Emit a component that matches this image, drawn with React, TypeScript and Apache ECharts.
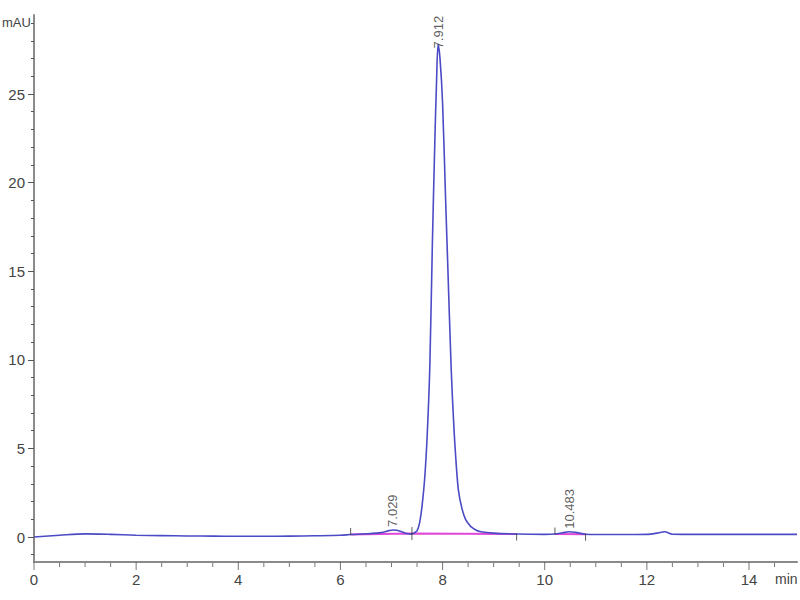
import React, { useEffect, useRef } from "react";
import * as echarts from "echarts";

// Chromatogram trace (time in min, absorbance in mAU)
const traceTime = [
  0, 0.5, 1.0, 1.5, 2.0, 2.5, 3.0, 3.5, 4.0, 4.5, 5.0, 5.5, 6.0, 6.2, 6.5, 6.8, 6.95, 7.029, 7.1, 7.2, 7.3, 7.4,
  7.45, 7.5, 7.55, 7.6, 7.65, 7.7, 7.75, 7.8, 7.85, 7.88, 7.912, 7.95, 8.0, 8.06, 8.1, 8.17, 8.22, 8.26, 8.31,
  8.38, 8.45, 8.55, 8.65, 8.75, 9.0, 9.45, 10.0, 10.2, 10.35, 10.483, 10.6, 10.8, 11.0, 11.5, 12.0, 12.2, 12.35,
  12.5, 13.0, 14.0, 14.94,
];
const traceAbs = [
  0.0, 0.1, 0.18, 0.15, 0.1, 0.08, 0.06, 0.05, 0.04, 0.04, 0.05, 0.07, 0.1, 0.14, 0.18, 0.25, 0.36, 0.4, 0.38,
  0.3, 0.2, 0.17, 0.25, 0.35, 0.8, 1.8, 3.3, 5.8, 9.6, 16.5, 22.5, 25.5, 27.8, 27.0, 24.5, 19.0, 15.5, 9.4, 6.3,
  4.4, 2.65, 1.6, 1.0, 0.6, 0.4, 0.3, 0.22, 0.17, 0.15, 0.17, 0.24, 0.3, 0.26, 0.16, 0.14, 0.14, 0.15, 0.22,
  0.3, 0.16, 0.15, 0.15, 0.15,
];

// Integrated peaks: retention time, apex height
const peakTimes = [7.029, 7.912, 10.483];
const peakHeights = [0.4, 27.8, 0.3];

// Integration baselines (start time, start value, end time, end value)
const baseStartT = [6.2, 7.4, 10.2];
const baseStartV = [0.14, 0.2, 0.17];
const baseEndT = [7.4, 9.45, 10.8];
const baseEndV = [0.2, 0.17, 0.16];

// Axis ticks
const xMin = 0;
const xMax = 14.94;
const yMin = -1.41;
const yMax = 29.46;
const xLabelValues = [0, 2, 4, 6, 8, 10, 12, 14];
const yLabelValues = [0, 5, 10, 15, 20, 25];
const xMinorValues = [0.5, 1, 1.5, 2.5, 3, 3.5, 4.5, 5, 5.5, 6.5, 7, 7.5, 8.5, 9, 9.5, 10.5, 11, 11.5, 12.5, 13, 13.5, 14.5];
const yMinorValues = [-1, 1, 2, 3, 4, 6, 7, 8, 9, 11, 12, 13, 14, 16, 17, 18, 19, 21, 22, 23, 24, 26, 27, 28, 29];

export default function App() {
  const ref = useRef<HTMLDivElement>(null);

  useEffect(() => {
    if (!ref.current) return;
    const chart = echarts.init(ref.current, null, { renderer: "svg" });

    const trace = traceTime.map((t, i) => [t, traceAbs[i]]);
    const baseData: any[] = [];
    baseStartT.forEach((t, i) => {
      baseData.push([t, baseStartV[i]]);
      baseData.push([baseEndT[i], baseEndV[i]]);
      baseData.push([null, null]);
    });
    const startMarks = baseStartT.map((t, i) => [t, baseStartV[i]]);
    const endMarks = baseEndT.map((t, i) => [t, baseEndV[i]]);
    const peaks = peakTimes.map((t, i) => ({
      value: [t, peakHeights[i]],
      label: { distance: peakHeights[i] > 5 ? -4 : 3 },
    }));
    const xMajorTicks = xLabelValues.map((v) => [v, yMin]);
    const xMinorTicks = xMinorValues.map((v) => [v, yMin]);

    const axisColor = "#8a8a8a";
    const labelFont = "'Liberation Sans Narrow', 'Liberation Sans', Arial, sans-serif";

    chart.setOption({
      animation: false,
      backgroundColor: "#ffffff",
      grid: { left: 34, right: 3, top: 15, bottom: 38 },
      xAxis: {
        type: "value",
        min: xMin,
        max: xMax,
        axisLine: { show: true, onZero: false, lineStyle: { color: axisColor, width: 2 } },
        axisTick: { show: false },
        axisLabel: {
          customValues: xLabelValues,
          color: "#444",
          fontSize: 15,
          fontFamily: labelFont,
          margin: 10,
        },
        splitLine: { show: false },
      },
      yAxis: [
        {
          type: "value",
          min: yMin,
          max: yMax,
          axisLine: { show: true, onZero: false, lineStyle: { color: axisColor, width: 2 } },
          axisTick: { show: true, customValues: yLabelValues, length: 6, lineStyle: { color: "#555", width: 1 } },
          axisLabel: {
            customValues: yLabelValues,
            color: "#444",
            fontSize: 15,
            fontFamily: labelFont,
            margin: 9,
          },
          splitLine: { show: false },
        },
        {
          type: "value",
          min: yMin,
          max: yMax,
          position: "left",
          axisLine: { show: false, onZero: false },
          axisTick: { show: true, customValues: yMinorValues, length: 3, lineStyle: { color: "#555", width: 1 } },
          axisLabel: { show: false },
          splitLine: { show: false },
        },
      ],
      series: [
        {
          type: "line",
          data: trace,
          smooth: 0.3,
          symbol: "none",
          lineStyle: { color: "#4b4bc6", width: 1.6 },
          z: 3,
        },
        {
          type: "line",
          data: baseData,
          connectNulls: false,
          symbol: "none",
          lineStyle: { color: "#e048d8", width: 2 },
          z: 2,
        },
        {
          type: "scatter",
          data: startMarks,
          symbol: "rect",
          symbolSize: [1, 7],
          symbolOffset: [0, -3],
          itemStyle: { color: "#333" },
          z: 4,
        },
        {
          type: "scatter",
          data: endMarks,
          symbol: "rect",
          symbolSize: [1, 7],
          symbolOffset: [0, 3],
          itemStyle: { color: "#333" },
          z: 4,
        },
        {
          type: "scatter",
          data: xMajorTicks,
          symbol: "rect",
          symbolSize: [1, 8],
          symbolOffset: [0, 4],
          clip: false,
          silent: true,
          itemStyle: { color: "#555" },
          z: 6,
        },
        {
          type: "scatter",
          data: xMinorTicks,
          symbol: "rect",
          symbolSize: [1, 4],
          symbolOffset: [0, 3],
          clip: false,
          silent: true,
          itemStyle: { color: "#555" },
          z: 6,
        },
        {
          type: "scatter",
          data: peaks,
          symbolSize: 0,
          z: 5,
          label: {
            show: true,
            position: "top",
            distance: 3,
            rotate: 90,
            align: "left",
            verticalAlign: "middle",
            color: "#333",
            fontSize: 13,
            fontFamily: "'Liberation Sans', Arial, sans-serif",
            formatter: (p: any) => p.value[0].toFixed(3),
          },
        },
      ],
      graphic: [
        {
          type: "text",
          left: 2,
          top: 16,
          style: { text: "mAU", fill: "#444", font: "13px " + labelFont },
        },
        {
          type: "text",
          left: 775,
          top: 572,
          style: { text: "min", fill: "#444", font: "14px " + labelFont },
        },
      ],
    });

    return () => chart.dispose();
  }, []);

  return (
    <div
      ref={ref}
      style={{ position: "fixed", left: 0, top: 0, width: 800, height: 600, background: "#fff" }}
    />
  );
}
